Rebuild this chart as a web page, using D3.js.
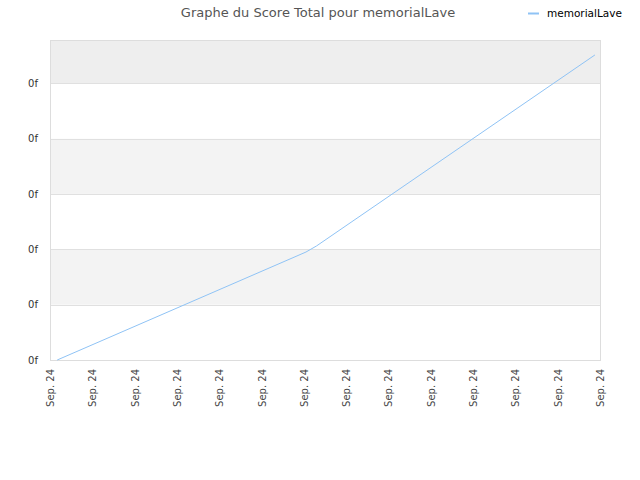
<!DOCTYPE html>
<html>
<head>
<meta charset="utf-8">
<script src="https://cdn.jsdelivr.net/npm/d3@7"></script>
<style>
  body { margin: 0; background: #fff; }
  text { font-family: "DejaVu Sans", sans-serif; }
</style>
</head>
<body>
<div id="chart"></div>
<script>
// tick labels along the bottom (14 of them, all the same day)
var xLabels = ['Sep. 24','Sep. 24','Sep. 24','Sep. 24','Sep. 24','Sep. 24','Sep. 24',
               'Sep. 24','Sep. 24','Sep. 24','Sep. 24','Sep. 24','Sep. 24','Sep. 24'];
var yTicks = [0, 1, 2, 3, 4, 5];
var yTickLabel = '0f';

// score points (x in tick positions, y in score units)
var scoreX = [0.17, 6.05, 6.3, 12.88];
var scoreY = [0, 1.95, 2.06, 5.51];
var seriesName = 'memorialLave';

var width = 640, height = 480;
var marginLeft = 50, marginTop = 40, plotW = 550, plotH = 320;

var svg = d3.select('#chart').append('svg')
    .attr('width', width)
    .attr('height', height);

var xScale = d3.scaleLinear().domain([0, xLabels.length - 1]).range([0, plotW]);
var yScale = d3.scaleLinear().domain([0, 5.78]).range([plotH, 0]);

var g = svg.append('g')
    .attr('transform', 'translate(' + marginLeft + ',' + marginTop + ')');

// alternating bands between the gridlines
var bands = [0, 1, 2, 3, 4, 5];
g.selectAll('.band')
    .data(bands)
    .enter().append('rect')
    .attr('x', 0)
    .attr('width', plotW)
    .attr('y', function(d) { return d == 5 ? 0 : yScale(d + 1); })
    .attr('height', function(d) { return d == 5 ? yScale(5) : yScale(d) - yScale(d + 1); })
    .style('fill', function(d) { return d == 5 ? '#eeeeee' : (d % 2 == 1 ? '#f3f3f3' : '#ffffff'); });

// gridlines
g.selectAll('.grid')
    .data(yTicks)
    .enter().append('line')
    .attr('x1', 0).attr('x2', plotW)
    .attr('y1', function(d) { return Math.round(yScale(d)) + 0.5; })
    .attr('y2', function(d) { return Math.round(yScale(d)) + 0.5; })
    .style('stroke', '#e0e0e0');

// frame
g.append('rect')
    .attr('x', 0.5).attr('y', 0.5)
    .attr('width', plotW).attr('height', plotH)
    .style('fill', 'none')
    .style('stroke', '#dddddd');

// y axis labels
var yAxis = g.append('g')
    .call(d3.axisLeft(yScale).tickValues(yTicks).tickSize(0).tickPadding(12).tickFormat(function() { return yTickLabel; }));
yAxis.select('.domain').remove();
yAxis.selectAll('text').style('font-size', '10px').style('fill', '#333');

// x axis labels, rotated
var xAxis = g.append('g')
    .attr('transform', 'translate(0,' + plotH + ')')
    .call(d3.axisBottom(xScale).tickValues(d3.range(xLabels.length)).tickSize(0).tickFormat(function(d) { return xLabels[d]; }));
xAxis.select('.domain').remove();
xAxis.selectAll('text')
    .attr('transform', 'rotate(-90)')
    .attr('x', -9)
    .attr('y', 0)
    .attr('dy', '0.35em')
    .style('text-anchor', 'end')
    .style('font-size', '10px')
    .style('fill', '#444');

// the score line
var data = scoreX.map(function(d, i) { return { x: d, y: scoreY[i] }; });
var line = d3.line()
    .x(function(d) { return xScale(d.x); })
    .y(function(d) { return yScale(d.y); });

g.append('path')
    .datum(data)
    .attr('d', line)
    .style('fill', 'none')
    .style('stroke', '#8fc3f5')
    .style('stroke-width', 1);

// title
svg.append('text')
    .attr('x', 318).attr('y', 17)
    .style('text-anchor', 'middle')
    .style('font-size', '13px')
    .style('fill', '#555')
    .text('Graphe du Score Total pour ' + seriesName);

// legend
svg.append('line')
    .attr('x1', 528).attr('x2', 539)
    .attr('y1', 13.5).attr('y2', 13.5)
    .style('stroke', '#8fc3f5')
    .style('stroke-width', 2);
svg.append('text')
    .attr('x', 547).attr('y', 17)
    .style('font-size', '10.5px')
    .style('fill', '#000')
    .text(seriesName);
</script>
</body>
</html>
